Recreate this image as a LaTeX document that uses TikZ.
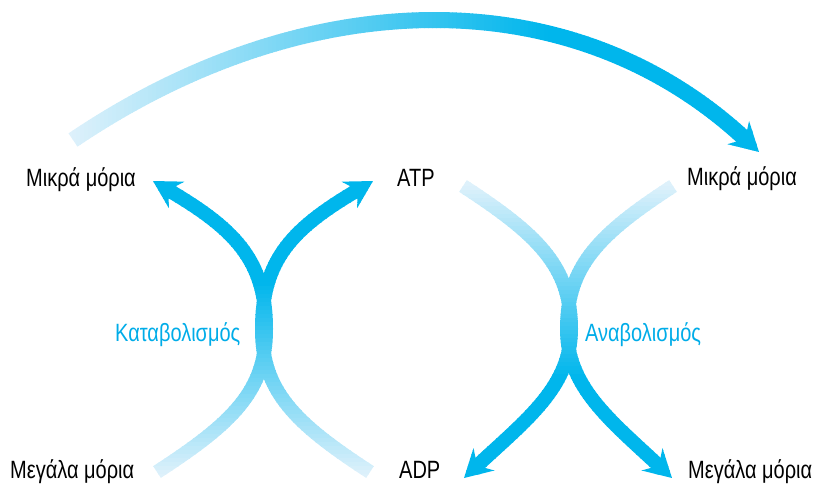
\documentclass[tikz,border=0pt]{standalone}
\usepackage{fontspec}
\setmainfont{Liberation Sans}[FakeStretch=0.8]
\usetikzlibrary{arrows.meta}
\definecolor{cdark}{RGB}{0,182,236}
\definecolor{clight}{RGB}{222,241,251}
\definecolor{labelcyan}{RGB}{0,172,232}
\tikzset{
  lbl/.style={inner sep=0pt, anchor=base west, font=\fontsize{25}{28}\selectfont, text=black},
  proc/.style={lbl, text=labelcyan},
  xarrow/.style={line width=14pt, -{Stealth[length=27pt,width=30pt,inset=9pt]}},
  toparrow/.style={line width=16pt, -{Stealth[length=28pt,width=31pt,inset=9pt]}},
}
\begin{document}
\begin{tikzpicture}[x=1pt,y=-1pt]
\useasboundingbox (0,0) rectangle (813,483);
% labels
\node[lbl] (smallL) at (26,186) {Μικρά μόρια};
\node[lbl] (atp) at (397,186) {ATP};
\node[lbl] (smallR) at (687,185) {Μικρά μόρια};
\node[lbl] (bigL) at (10,478) {Μεγάλα μόρια};
\node[lbl] (adp) at (399,478) {ADP};
\node[lbl] (bigR) at (688,478) {Μεγάλα μόρια};
\node[proc] (kat) at (115,341) {Καταβολισμός};
\node[proc] (ana) at (585,341) {Αναβολισμός};
% connector end points
\coordinate (kLs) at (157,472);
\coordinate (kLm) at (266,329);
\coordinate (kLe) at (153,181);
\coordinate (kRs) at (370,472);
\coordinate (kRm) at (262,329);
\coordinate (kRe) at (373,181);
\coordinate (aLs) at (463,186);
\coordinate (aLm) at (571,329);
\coordinate (aLe) at (464,478);
\coordinate (aRs) at (673,186);
\coordinate (aRm) at (567,329);
\coordinate (aRe) at (672,478);
\coordinate (ts) at (73,140);
\coordinate (te) at (759,152);
% catabolism (dark at top, light at bottom)
\foreach \i in {0,...,80}{
  \pgfmathsetmacro{\ya}{166+4*\i}
  \pgfmathsetmacro{\yb}{\ya+4.6}
  \pgfmathsetmacro{\p}{max(0,min(100,(475-(\ya+2))/1.92))}
  \colorlet{bandcol}{cdark!\p!clight}
  \begin{scope}
    \clip (0,\ya) rectangle (420,\yb);
    \draw[xarrow, bandcol] (kLs) .. controls +(75.5,-49) and +(0,62) .. (kLm) .. controls +(0,-70) and +(80,47) .. (kLe);
    \draw[xarrow, bandcol] (kRs) .. controls +(-75.5,-49) and +(0,62) .. (kRm) .. controls +(0,-70) and +(-80,47) .. (kRe);
  \end{scope}
}
% anabolism (light at top, dark at bottom)
\foreach \i in {0,...,80}{
  \pgfmathsetmacro{\ya}{166+4*\i}
  \pgfmathsetmacro{\yb}{\ya+4.6}
  \pgfmathsetmacro{\p}{max(0,min(100,((\ya+2)-185)/1.92))}
  \colorlet{bandcol}{cdark!\p!clight}
  \begin{scope}
    \clip (430,\ya) rectangle (813,\yb);
    \draw[xarrow, bandcol] (aLs) .. controls +(75.5,49) and +(0,-62) .. (aLm) .. controls +(0,58) and +(62,-58) .. (aLe);
    \draw[xarrow, bandcol] (aRs) .. controls +(-75.5,49) and +(0,-62) .. (aRm) .. controls +(0,58) and +(-62,-58) .. (aRe);
  \end{scope}
}
% top arc (light at left, dark at right)
\foreach \i in {0,...,185}{
  \pgfmathsetmacro{\xa}{60+4*\i}
  \pgfmathsetmacro{\xb}{\xa+4.6}
  \pgfmathsetmacro{\p}{max(0,min(100,((\xa+2)-70)/4.77))}
  \colorlet{bandcol}{cdark!\p!clight}
  \begin{scope}
    \clip (\xa,-10) rectangle (\xb,165);
    \draw[toparrow, bandcol] (ts) .. controls (310,-20) and (575,-20) .. (te);
  \end{scope}
}
\end{tikzpicture}
\end{document}
